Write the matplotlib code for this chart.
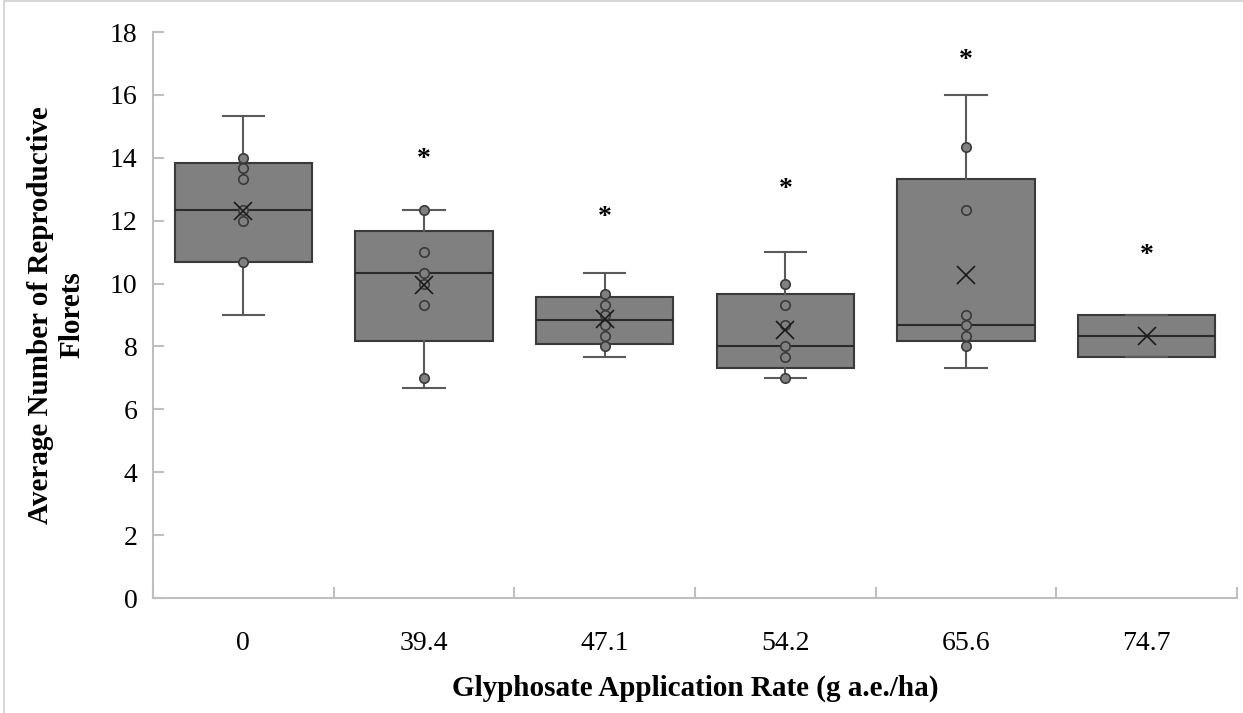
import matplotlib.pyplot as plt
import matplotlib.patches as patches
import numpy as np

plt.rcParams['font.family'] = ['Liberation Serif', 'DejaVu Serif']

# category labels (g a.e./ha)
rates = ['0', '39.4', '47.1', '54.2', '65.6', '74.7']

# box statistics
whis_lo = [9.0, 6.67, 7.67, 7.0, 7.33, 7.67]
q1 = [10.67, 8.17, 8.08, 7.33, 8.17, 7.67]
med = [12.33, 10.33, 8.83, 8.0, 8.67, 8.33]
q3 = [13.83, 11.67, 9.58, 9.67, 13.33, 9.0]
whis_hi = [15.33, 12.33, 10.33, 11.0, 16.0, 9.0]
means = [12.3, 9.95, 8.86, 8.52, 10.27, 8.33]

# inner points shown in each box
points = [
    [14.0, 13.67, 13.33, 12.33, 12.0, 10.67],
    [12.33, 11.0, 10.33, 10.0, 9.33, 7.0],
    [9.67, 9.33, 9.0, 8.67, 8.33, 8.0],
    [10.0, 9.33, 8.67, 8.0, 7.67, 7.0],
    [14.33, 12.33, 9.0, 8.67, 8.33, 8.0],
    [],
]

# significance stars (height of each star)
star_y = [None, 13.95, 12.1, 13.0, 17.1, 10.9]

fig = plt.figure(figsize=(12.43, 7.13), dpi=100)
ax = fig.add_axes([153 / 1243, 115 / 713, 1084 / 1243, 566 / 713])

stats = []
for i in range(len(rates)):
    stats.append(dict(med=med[i], q1=q1[i], q3=q3[i], whislo=whis_lo[i],
                      whishi=whis_hi[i], fliers=[], label=rates[i]))

pos = np.arange(len(rates))
ax.bxp(stats, positions=pos, widths=0.76, patch_artist=True, showfliers=False,
       boxprops=dict(facecolor='#808080', edgecolor='#3a3a3a', linewidth=1.5),
       medianprops=dict(color='#2a2a2a', linewidth=1.5),
       whiskerprops=dict(color='#5a5a5a', linewidth=1.5),
       capprops=dict(color='#5a5a5a', linewidth=1.5),
       capwidths=0.23)

for i, pts in enumerate(points):
    if pts:
        ax.plot([pos[i]] * len(pts), pts, 'o', ms=6.8, mfc='#808080',
                mec='#3a3a3a', mew=1.2, zorder=4)

ax.plot(pos, means, 'x', ms=13, color='#1a1a1a', mew=1.2, zorder=5)

for i, sy in enumerate(star_y):
    if sy is not None:
        ax.text(pos[i], sy, '*', ha='center', va='center', fontsize=20,
                fontweight='bold')

ax.set_xlim(-0.5, len(rates) - 0.5)
ax.set_ylim(0, 18)
ax.set_yticks(np.arange(0, 19, 2))
ax.set_xticks(pos)
ax.set_xticklabels(rates)
ax.set_xticks(np.arange(-0.5, len(rates), 1), minor=True)

for s in ['top', 'right']:
    ax.spines[s].set_visible(False)
for s in ['left', 'bottom']:
    ax.spines[s].set_color('#bfbfbf')
    ax.spines[s].set_linewidth(1.5)

ax.tick_params(axis='x', which='major', length=0, labelsize=20, pad=24)
ax.tick_params(axis='x', which='minor', direction='in', length=8,
               color='#bfbfbf', width=1.5)
ax.tick_params(axis='y', direction='in', length=8, color='#bfbfbf',
               width=1.5, labelsize=20, pad=11)

fig.text(695 / 1243, 1 - 688 / 713, 'Glyphosate Application Rate (g a.e./ha)',
         ha='center', va='center', fontsize=21, fontweight='bold')
fig.text(56 / 1243, 1 - 315 / 713, 'Average Number of Reproductive\nFlorets',
         ha='center', va='center', rotation=90, fontsize=21,
         fontweight='bold', linespacing=1.2)

fig.patches.append(patches.Rectangle((4 / 1243, -0.05), 1.1, 1.05 - 1.5 / 713,
                                     transform=fig.transFigure, fill=False,
                                     edgecolor='#d0d0d0', linewidth=1.2))

fig.savefig('out.png', dpi=100)
